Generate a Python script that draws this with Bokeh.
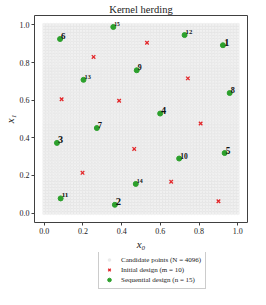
import numpy as np
from bokeh.plotting import figure
from bokeh.layouts import column
from bokeh.models import Range1d, Legend, LegendItem, ColumnDataSource
from bokeh.core.properties import value
from bokeh.embed import file_html
from bokeh.resources import INLINE

# ---------------- data ----------------
n_side = 64  # candidate set: 64 x 64 = 4096 points
cand_axis = np.linspace(0.0, 1.0, n_side)

init_x = [0.531, 0.255, 0.742, 0.090, 0.387, 0.808, 0.465, 0.198, 0.656, 0.900]
init_y = [0.905, 0.830, 0.716, 0.605, 0.597, 0.476, 0.341, 0.214, 0.167, 0.063]

seq_order = [1, 2, 3, 4, 5, 6, 7, 8, 9, 10, 11, 12, 13, 14, 15]
seq_x = [0.923, 0.365, 0.066, 0.599, 0.932, 0.082, 0.272, 0.958, 0.478, 0.697,
         0.085, 0.725, 0.203, 0.473, 0.357]
seq_y = [0.892, 0.044, 0.373, 0.529, 0.319, 0.925, 0.452, 0.638, 0.759, 0.290,
         0.078, 0.946, 0.708, 0.155, 0.989]

x_ticks = [0.0, 0.2, 0.4, 0.6, 0.8, 1.0]
y_ticks = [0.0, 0.2, 0.4, 0.6, 0.8, 1.0]

title_text = "Kernel herding"
x_label = "x\u2080"
y_label = "x\u2081"
legend_labels = ["Candidate points (N = 4096)", "Initial design (m = 10)",
                 "Sequential design (n = 15)"]

# ---------------- styles ----------------
FONT = "Liberation Serif"
CAND = dict(marker="circle", size=4.2, fill_color="#bbbbbb", fill_alpha=0.2, line_color=None)
CAND_LEG = dict(marker="circle", size=5, fill_color="#bbbbbb", fill_alpha=0.3, line_color=None)
INIT = dict(marker="x", size=5, line_color="#e3272a", line_width=1.3)
SEQ = dict(marker="circle", size=5, fill_color="#2ca02c", line_color="#2ca02c")

# ---------------- main figure ----------------
p = figure(width=250, height=252, output_backend="svg", toolbar_location=None,
           x_range=Range1d(-0.05, 1.05), y_range=Range1d(-0.05, 1.05),
           min_border_left=0, min_border_right=3, min_border_top=0,
           min_border_bottom=0)

p.title.text = title_text
p.title.align = "center"
p.title.text_font = FONT
p.title.text_font_size = "10.5px"
p.title.text_font_style = "normal"
p.title.text_color = "#222222"
p.title.standoff = 2
p.title.offset = 0

p.xgrid.visible = False
p.ygrid.visible = False
p.outline_line_color = "#404040"
p.outline_line_width = 1
p.background_fill_color = "white"
p.border_fill_color = "white"

for ax, ticks, lab in ((p.xaxis[0], x_ticks, x_label), (p.yaxis[0], y_ticks, y_label)):
    ax.ticker = ticks
    ax.major_label_overrides = {t: f"{t:.1f}" for t in ticks}
    ax.axis_label = lab
    ax.axis_label_text_font = FONT
    ax.axis_label_text_font_style = "italic"
    ax.axis_label_text_font_size = "11px"
    ax.axis_label_text_color = "#222222"
    ax.axis_label_standoff = 1
    ax.major_label_text_font = FONT
    ax.major_label_text_font_size = "8px"
    ax.major_label_text_color = "#222222"
    ax.major_label_standoff = 2
    ax.minor_tick_line_color = None
    ax.major_tick_in = 0
    ax.major_tick_out = 3
    ax.major_tick_line_color = "#404040"
    ax.axis_line_color = None

p.yaxis[0].major_label_orientation = "horizontal"

gx, gy = np.meshgrid(cand_axis, cand_axis)
p.scatter(gx.ravel(), gy.ravel(), **CAND)
p.scatter(init_x, init_y, **INIT)
p.scatter(seq_x, seq_y, **SEQ)

n = len(seq_order)
sizes = [f"{11 - 5.5 * (k - 1) / (n - 1):.1f}px" for k in seq_order]
src = ColumnDataSource(dict(x=seq_x, y=seq_y, t=[str(k) for k in seq_order], s=sizes))
p.text(x="x", y="y", text="t", source=src, text_font=value(FONT),
       text_font_size="s", text_font_style="bold", text_color="#111111",
       text_align="left", text_baseline="middle", x_offset=1, y_offset=-3)

# ---------------- legend figure ----------------
lf = figure(width=250, height=37, output_backend="svg", toolbar_location=None,
            x_range=Range1d(0, 1), y_range=Range1d(0, 1),
            x_axis_location=None, y_axis_location=None,
            min_border_left=0, min_border_right=0, min_border_top=0,
            min_border_bottom=0)
lf.xgrid.visible = False
lf.ygrid.visible = False
lf.outline_line_color = None
# off-frame placeholder points: only their legend swatches are seen
r_cand = lf.scatter([-5], [-5], **CAND_LEG)
r_init = lf.scatter([-5], [-5], **INIT)
r_seq = lf.scatter([-5], [-5], **SEQ)

legend = Legend(items=[LegendItem(label=legend_labels[0], renderers=[r_cand]),
                       LegendItem(label=legend_labels[1], renderers=[r_init]),
                       LegendItem(label=legend_labels[2], renderers=[r_seq])],
                location=(64, 0), orientation="vertical")
legend.label_text_font = FONT
legend.label_text_font_size = "7px"
legend.label_text_color = "#222222"
legend.label_height = 9
legend.glyph_height = 9
legend.glyph_width = 12
legend.spacing = 1
legend.padding = 4
legend.margin = 0
legend.label_standoff = 6
legend.border_line_color = "#cccccc"
legend.border_line_alpha = 1
legend.background_fill_alpha = 1
lf.add_layout(legend, "center")

layout = column(p, lf, spacing=0)
open("out.html", "w").write(file_html(layout, INLINE))
